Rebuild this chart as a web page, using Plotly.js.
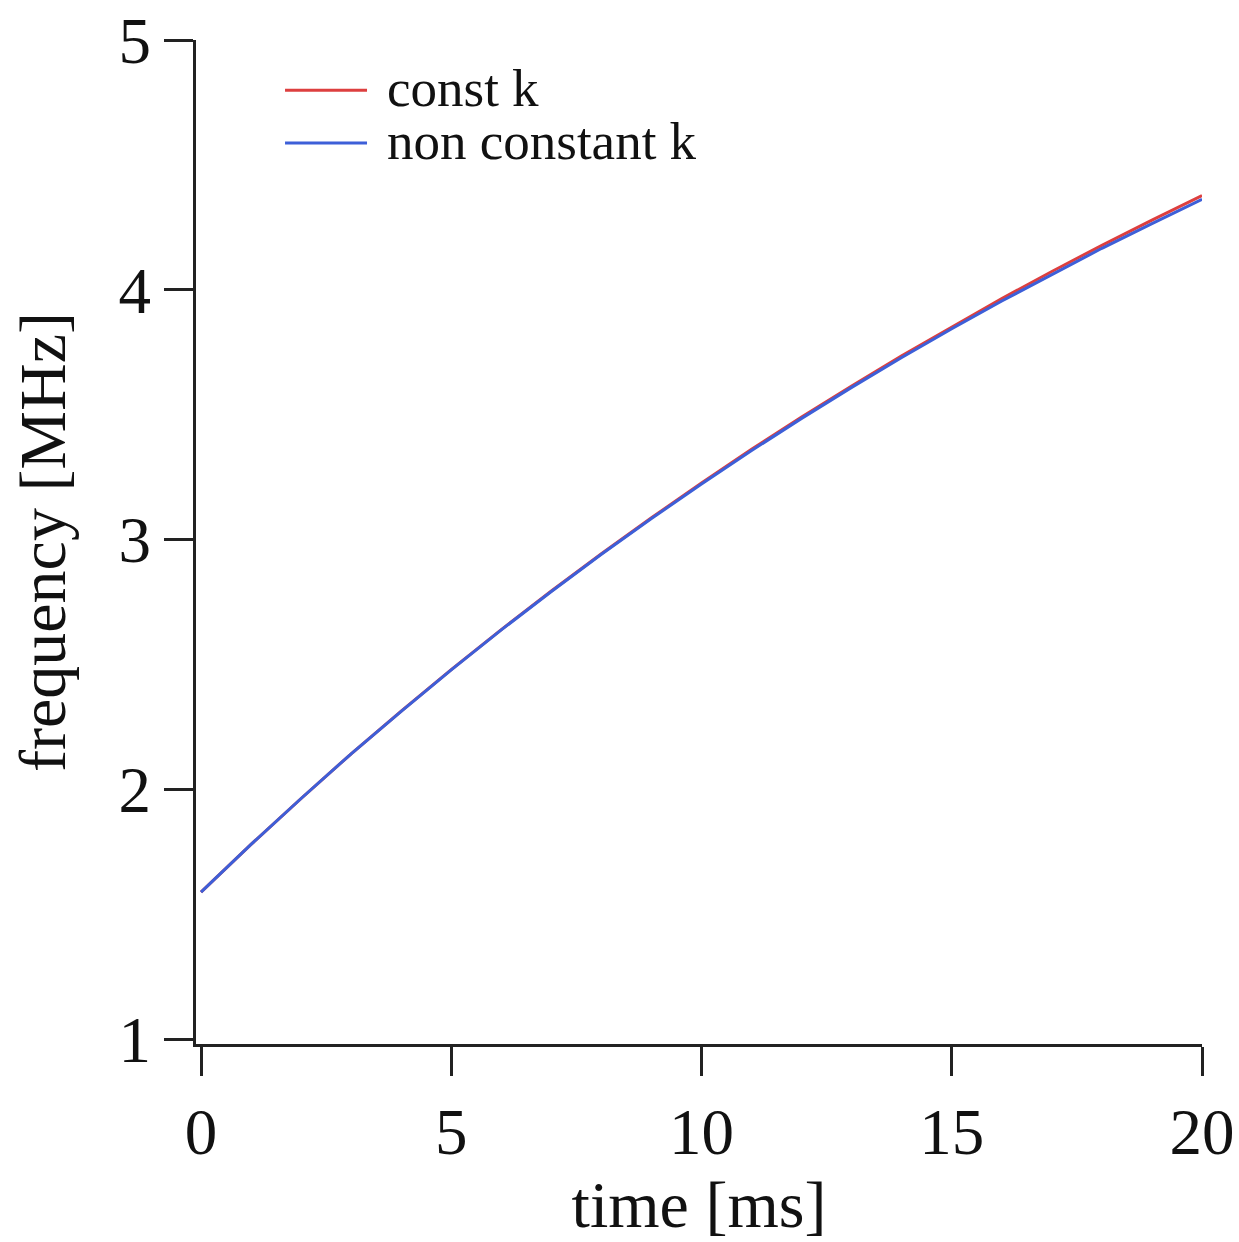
<!DOCTYPE html>
<html>
<head>
<meta charset="utf-8">
<script src="https://cdn.plot.ly/plotly-3.0.1.min.js"></script>
<style>
html, body { margin: 0; padding: 0; background: #ffffff; }
#chart { width: 1239px; height: 1242px; }
</style>
</head>
<body>
<div id="chart"></div>
<script>
// Data
const timeMs = [0, 1, 2, 3, 4, 5, 6, 7, 8, 9, 10, 11, 12, 13, 14, 15, 16, 17, 18, 19, 20];
const freqConstK = [1.588, 1.779, 1.963, 2.142, 2.313, 2.479, 2.639, 2.794, 2.943, 3.087, 3.226,
                    3.361, 3.490, 3.615, 3.736, 3.852, 3.965, 4.073, 4.178, 4.279, 4.377];
const freqNonConstK = [1.588, 1.779, 1.963, 2.142, 2.312, 2.478, 2.638, 2.792, 2.941, 3.084, 3.222,
                       3.356, 3.485, 3.609, 3.729, 3.844, 3.955, 4.062, 4.166, 4.265, 4.362];
const seriesNames = ["const k", "non constant k"];
const xTicks = [0, 5, 10, 15, 20];
const yTicks = [1, 2, 3, 4, 5];

const RED = "#dd3f3f";
const BLUE = "#3d5fd8";
const FONT = "Liberation Serif, Times New Roman, serif";

const traces = [
  { x: timeMs, y: freqConstK, name: seriesNames[0], type: "scatter", mode: "lines",
    line: { color: RED, width: 3 }, showlegend: false },
  { x: timeMs, y: freqNonConstK, name: seriesNames[1], type: "scatter", mode: "lines",
    line: { color: BLUE, width: 3 }, showlegend: false }
];

const layout = {
  width: 1239, height: 1242,
  margin: { l: 196, r: 37, t: 40, b: 198 },
  paper_bgcolor: "#ffffff", plot_bgcolor: "#ffffff",
  font: { family: FONT, color: "#111111" },
  xaxis: {
    range: [-0.1, 20], tickvals: xTicks, ticktext: xTicks.map(String),
    showgrid: false, zeroline: false, showline: true, linecolor: "#222222", linewidth: 3,
    ticks: "outside", ticklen: 29, tickwidth: 3, tickcolor: "#222222",
    tickfont: { family: FONT, size: 65, color: "#111111" },
    title: { text: "time [ms]", font: { family: FONT, size: 66, color: "#111111" }, standoff: 14 }
  },
  yaxis: {
    range: [0.98, 5], tickvals: yTicks, ticktext: yTicks.map(String),
    showgrid: false, zeroline: false, showline: true, linecolor: "#222222", linewidth: 3,
    ticks: "outside", ticklen: 29, tickwidth: 3, tickcolor: "#222222",
    tickfont: { family: FONT, size: 65, color: "#111111" },
    title: { text: "frequency [MHz]", font: { family: FONT, size: 66, color: "#111111" }, standoff: 32 }
  },
  shapes: [
    { type: "line", xref: "paper", yref: "paper", x0: 0.0885, x1: 0.17, y0: 0.950, y1: 0.950,
      line: { color: RED, width: 3 } },
    { type: "line", xref: "paper", yref: "paper", x0: 0.0885, x1: 0.17, y0: 0.8974, y1: 0.8974,
      line: { color: BLUE, width: 3 } }
  ],
  annotations: [
    { xref: "paper", yref: "paper", x: 0.188, y: 0.952, xanchor: "left", yanchor: "middle",
      text: seriesNames[0], showarrow: false, font: { family: FONT, size: 53, color: "#111111" } },
    { xref: "paper", yref: "paper", x: 0.188, y: 0.899, xanchor: "left", yanchor: "middle",
      text: seriesNames[1], showarrow: false, font: { family: FONT, size: 53, color: "#111111" } }
  ]
};

Plotly.newPlot("chart", traces, layout, { displayModeBar: false, staticPlot: true });
</script>
</body>
</html>
